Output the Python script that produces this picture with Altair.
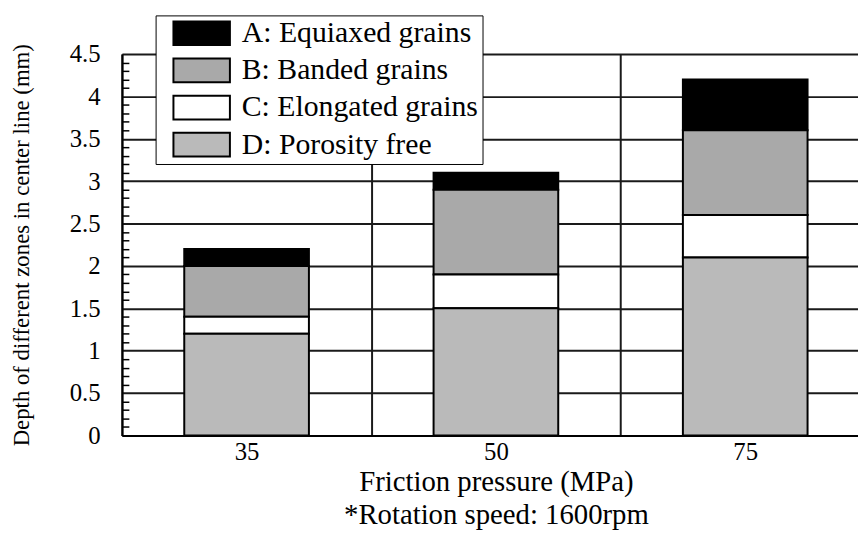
import altair as alt
import pandas as pd

pressures = ["35", "50", "75"]
zones = ["A: Equiaxed grains", "B: Banded grains", "C: Elongated grains", "D: Porosity free"]
zone_A = [0.2, 0.2, 0.6]
zone_B = [0.6, 1.0, 1.0]
zone_C = [0.2, 0.4, 0.5]
zone_D = [1.2, 1.5, 2.1]
zone_colors = ["#000000", "#a9a9a9", "#ffffff", "#bababa"]
y_major = [0, 0.5, 1, 1.5, 2, 2.5, 3, 3.5, 4, 4.5]
y_minor = [0.1, 0.2, 0.3, 0.4, 0.6, 0.7, 0.8, 0.9, 1.1, 1.2, 1.3, 1.4,
           1.6, 1.7, 1.8, 1.9, 2.1, 2.2, 2.3, 2.4, 2.6, 2.7, 2.8, 2.9,
           3.1, 3.2, 3.3, 3.4, 3.6, 3.7, 3.8, 3.9, 4.1, 4.2, 4.3, 4.4]

rows = []
series = [zone_A, zone_B, zone_C, zone_D]
for zi, (z, vals) in enumerate(zip(zones, series)):
    for p, v in zip(pressures, vals):
        rows.append({"pressure": p, "zone": z, "value": v, "rank": 3 - zi})
df = pd.DataFrame(rows)

FONT = "Liberation Serif"

xscale = alt.Scale(range=[0, 755], paddingInner=0, paddingOuter=0)
yscale = alt.Scale(domain=[0, 4.5], nice=False, zero=True)

bars = alt.Chart(df).mark_bar(stroke="black", strokeWidth=2, opacity=1,
                              width=alt.RelativeBandSize(0.5)).encode(
    x=alt.X("pressure:N", sort=pressures, scale=xscale,
            axis=alt.Axis(tickBand="extent", labelAngle=0, ticks=False,
                          grid=True, gridColor="#1a1a1a", gridWidth=2,
                          domain=True, domainColor="black", domainWidth=2,
                          labelFont=FONT, labelFontSize=25, labelColor="black",
                          labelPadding=4,
                          title=["Friction pressure (MPa)", "*Rotation speed: 1600rpm"],
                          titleFont=FONT, titleFontSize=29, titleFontWeight="normal",
                          titleColor="black", titleLineHeight=33, titlePadding=4)),
    y=alt.Y("value:Q", stack="zero", scale=yscale,
            axis=alt.Axis(values=y_major, orient="left", ticks=False, tickSize=0,
                          format="~g",
                          grid=True, gridColor="#1a1a1a", gridWidth=2,
                          domain=True, domainColor="black", domainWidth=2,
                          labelFont=FONT, labelFontSize=25, labelColor="black",
                          labelPadding=22,
                          title="Depth of different zones in center line (mm)",
                          titleFont=FONT, titleFontSize=23, titleFontWeight="normal",
                          titleColor="black", titlePadding=36)),
    color=alt.Color("zone:N", scale=alt.Scale(domain=zones, range=zone_colors),
                    legend=alt.Legend(title=None, orient="none", legendX=34, legendY=-39,
                                      fillColor="white", strokeColor="black",
                                      padding=4, clipHeight=28, rowPadding=7.5,
                                      symbolType="M-1,-0.42H1V0.42H-1Z", symbolSize=3249,
                                      symbolStrokeColor="black", symbolStrokeWidth=2,
                                      symbolOffset=13, labelOffset=11,
                                      labelFont=FONT, labelFontSize=30, labelColor="black",
                                      labelLimit=400)),
    order=alt.Order("rank:Q", sort="ascending"),
)

minor = alt.Chart(df).mark_bar(opacity=0).encode(
    x=alt.X("pressure:N", sort=pressures, scale=xscale),
    y=alt.Y("sum(value):Q", scale=yscale,
            axis=alt.Axis(values=y_minor, orient="right", offset=-743, labels=False,
                          grid=False, domain=False, ticks=True, tickSize=7,
                          tickColor="black", tickWidth=1.5, title="")),
)

chart = alt.layer(bars, minor).resolve_axis(y="independent").properties(
    width=743, height=385,
    autosize=alt.AutoSizeParams(type="none"),
    padding={"left": 115, "top": 44, "right": 0, "bottom": 96},
).configure_view(strokeWidth=0).configure_legend(strokeWidth=2).configure(
    font=FONT, background="white")

chart.save("out.html", embed_options={"renderer": "svg", "actions": False})
